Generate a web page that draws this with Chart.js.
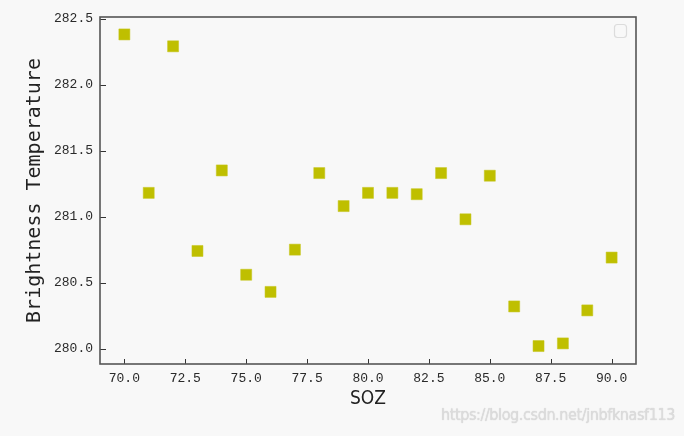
<!DOCTYPE html>
<html>
<head>
<meta charset="utf-8">
<script src="https://cdn.jsdelivr.net/npm/chart.js@4/dist/chart.umd.min.js"></script>
<style>
  html, body { margin: 0; padding: 0; background: #f8f8f8; }
  .wrap { position: relative; width: 684px; height: 436px; }
  .mark {
    position: absolute; right: 9px; top: 405px;
    font: 16px "DejaVu Sans Condensed", "Liberation Sans", sans-serif;
    letter-spacing: -0.4px;
    color: #dcdcdc; text-shadow: 0 0 1px #c8c8c8; white-space: nowrap;
  }
</style>
</head>
<body>
<div class="wrap">
  <canvas id="chart" width="684" height="436"></canvas>
  <div class="mark">https://blog.csdn.net/jnbfknasf113</div>
</div>
<script>
// SOZ vs brightness temperature
const soz = [70, 71, 72, 73, 74, 75, 76, 77, 78, 79, 80, 81, 82, 83, 84, 85, 86, 87, 88, 89, 90];
const temps = [282.38, 281.18, 282.29, 280.74, 281.35, 280.56, 280.43, 280.75, 281.33, 281.08,
               281.18, 281.18, 281.17, 281.33, 280.98, 281.31, 280.32, 280.02, 280.04, 280.29, 280.69];
const xTicks = [70, 72.5, 75, 77.5, 80, 82.5, 85, 87.5, 90];
const yTicks = [280.0, 280.5, 281.0, 281.5, 282.0, 282.5];

const points = soz.map((x, i) => ({ x: x, y: temps[i] }));

// frame, inward ticks and the empty legend box
const framePlugin = {
    id: "frame",
    afterDraw(chart) {
        const { ctx, chartArea: a, scales } = chart;
        ctx.save();
        ctx.strokeStyle = "#333";
        ctx.lineWidth = 1;
        xTicks.forEach(v => {
            const px = Math.round(scales.x.getPixelForValue(v)) + 0.5;
            ctx.beginPath();
            ctx.moveTo(px, a.bottom);
            ctx.lineTo(px, a.bottom - 5);
            ctx.stroke();
        });
        yTicks.forEach(v => {
            const py = Math.round(scales.y.getPixelForValue(v)) + 0.5;
            ctx.beginPath();
            ctx.moveTo(a.left, py);
            ctx.lineTo(a.left + 6, py);
            ctx.stroke();
        });
        ctx.strokeStyle = "#555";
        ctx.lineWidth = 1.6;
        ctx.strokeRect(a.left, a.top, a.right - a.left, a.bottom - a.top);
        // empty legend
        ctx.strokeStyle = "#dcdcdc";
        ctx.lineWidth = 1.2;
        ctx.beginPath();
        ctx.roundRect(614.5, 24.5, 12, 13, 3);
        ctx.stroke();
        ctx.restore();
    }
};

new Chart(document.getElementById("chart"), {
    type: "scatter",
    data: {
        datasets: [{
            data: points,
            pointStyle: "rect",
            pointRadius: 7.8,
            pointHoverRadius: 7.8,
            backgroundColor: "#bfbf00",
            borderColor: "#c4c41a",
            borderWidth: 0.5
        }]
    },
    options: {
        responsive: false,
        animation: false,
        layout: { padding: { top: 17, right: 48, left: 0, bottom: 0 } },
        plugins: { legend: { display: false }, tooltip: { enabled: false } },
        scales: {
            x: {
                type: "linear",
                min: 69,
                max: 91,
                afterFit: s => { s.height = 72; },
                afterBuildTicks: s => { s.ticks = xTicks.map(v => ({ value: v })); },
                grid: { display: false, drawTicks: false },
                border: { display: false },
                ticks: {
                    padding: 7,
                    color: "#2a2a2a",
                    font: { family: "Liberation Mono", size: 13 },
                    maxRotation: 0,
                    callback: v => v.toFixed(1)
                },
                title: {
                    display: true,
                    text: "SOZ",
                    color: "#222",
                    font: { family: "'DejaVu Sans Condensed', 'Liberation Sans', sans-serif", size: 19 },
                    padding: { bottom: 26 }
                }
            },
            y: {
                min: 279.884,
                max: 282.512,
                afterFit: s => { s.width = 100; },
                afterBuildTicks: s => { s.ticks = yTicks.map(v => ({ value: v })); },
                grid: { display: false, drawTicks: false },
                border: { display: false },
                ticks: {
                    padding: 7,
                    color: "#2a2a2a",
                    font: { family: "Liberation Mono", size: 13 },
                    callback: v => v.toFixed(1)
                },
                title: {
                    display: true,
                    text: "Brightness Temperature",
                    color: "#222",
                    font: { family: "DejaVu Sans Mono", size: 20 },
                    padding: { top: 23 }
                }
            }
        }
    },
    plugins: [framePlugin]
});
</script>
</body>
</html>
